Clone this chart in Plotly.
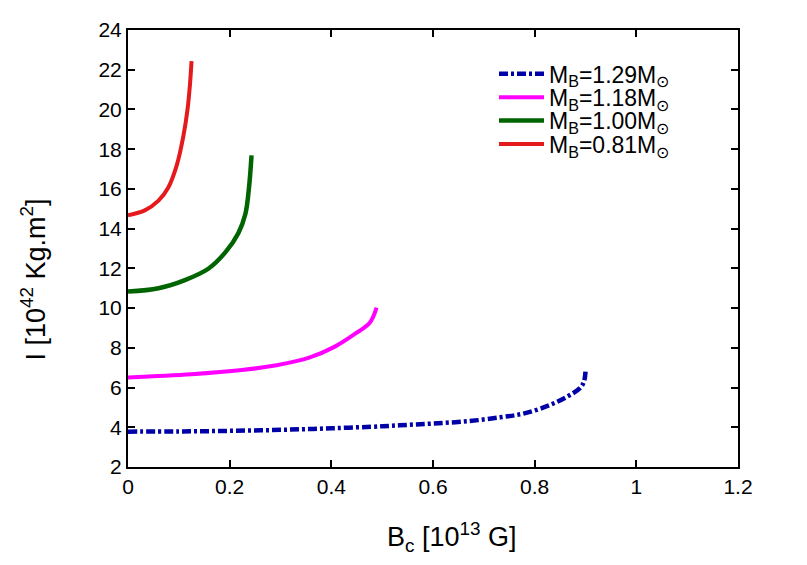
import plotly.graph_objects as go

# B_c [10^13 G] vs I [10^42 kg m^2] for four baryonic masses
bc_129 = [0.0, 0.1, 0.2, 0.3, 0.4, 0.5, 0.55, 0.6, 0.666, 0.732, 0.78, 0.83, 0.863, 0.889, 0.897, 0.90]
i_129 = [3.78, 3.79, 3.82, 3.87, 3.95, 4.05, 4.12, 4.19, 4.3, 4.5, 4.7, 5.12, 5.53, 5.97, 6.3, 6.8]

bc_118 = [0.0, 0.125, 0.224, 0.289, 0.355, 0.407, 0.447, 0.476, 0.489]
i_118 = [6.51, 6.67, 6.88, 7.11, 7.49, 8.06, 8.71, 9.28, 10.02]

bc_100 = [0.0, 0.06, 0.112, 0.158, 0.191, 0.217, 0.231, 0.238, 0.243]
i_100 = [10.83, 11.0, 11.41, 11.98, 12.79, 13.77, 14.75, 16.06, 17.69]

bc_081 = [0.0, 0.033, 0.06, 0.079, 0.096, 0.109, 0.117, 0.122, 0.125]
i_081 = [14.67, 14.92, 15.41, 16.06, 17.2, 18.67, 19.98, 21.29, 22.43]

labels = ["M<sub>B</sub>=1.29M<sub>⊙</sub>", "M<sub>B</sub>=1.18M<sub>⊙</sub>",
          "M<sub>B</sub>=1.00M<sub>⊙</sub>", "M<sub>B</sub>=0.81M<sub>⊙</sub>"]

fig = go.Figure()
fig.add_trace(go.Scatter(x=bc_129, y=i_129, mode='lines', name=labels[0], legend='legend',
                         line=dict(color='#0000a8', width=4.5, dash='9px,3px,3px,3px', shape='spline')))
fig.add_trace(go.Scatter(x=bc_118, y=i_118, mode='lines', name=labels[1], legend='legend2',
                         line=dict(color='#ff00ff', width=4, shape='spline')))
fig.add_trace(go.Scatter(x=bc_100, y=i_100, mode='lines', name=labels[2], legend='legend3',
                         line=dict(color='#006400', width=4.5, shape='spline')))
fig.add_trace(go.Scatter(x=bc_081, y=i_081, mode='lines', name=labels[3], legend='legend4',
                         line=dict(color='#e41a1c', width=4, shape='spline')))
fig.update_traces(showlegend=True)

axis_common = dict(showline=True, linecolor='black', linewidth=2, mirror='ticks',
                   ticks='inside', ticklen=7, tickwidth=2, tickcolor='black',
                   showgrid=False, zeroline=False,
                   tickfont=dict(size=21, color='black'))

# one legend per entry so the rows can sit as tight as in the reference
leg = dict(x=0.6, xanchor='left', yanchor='middle', bgcolor='rgba(0,0,0,0)',
           font=dict(size=23), itemwidth=45)

# page has an 8px body margin, so the figure is sized to fit inside the window
fig.update_layout(
    width=791, height=549,
    showlegend=True,
    paper_bgcolor='white', plot_bgcolor='white',
    font=dict(family='Liberation Sans, Arial, sans-serif', color='black'),
    margin=dict(l=120, r=61, t=10, b=90),
    xaxis=dict(range=[0, 1.2], tickvals=[0, 0.2, 0.4, 0.6, 0.8, 1.0, 1.2],
               ticktext=['0', '0.2', '0.4', '0.6', '0.8', '1', '1.2'],
               **axis_common),
    yaxis=dict(range=[2, 24], dtick=2, **axis_common),
    legend=dict(y=0.9, **leg),
    legend2=dict(y=0.846, **leg),
    legend3=dict(y=0.793, **leg),
    legend4=dict(y=0.739, **leg),
)

fig.add_annotation(text='B<sub>c</sub> [10<sup>13</sup> G]', xref='paper', yref='paper',
                   x=0.531, y=-0.16, xanchor='center', yanchor='middle',
                   showarrow=False, font=dict(size=27))
fig.add_annotation(text='I [10<sup>42</sup> Kg.m<sup>2</sup>]', xref='paper', yref='paper',
                   x=-0.155, y=0.43, xanchor='center', yanchor='middle', textangle=-90,
                   showarrow=False, font=dict(size=27))

fig.write_html("out.html")
